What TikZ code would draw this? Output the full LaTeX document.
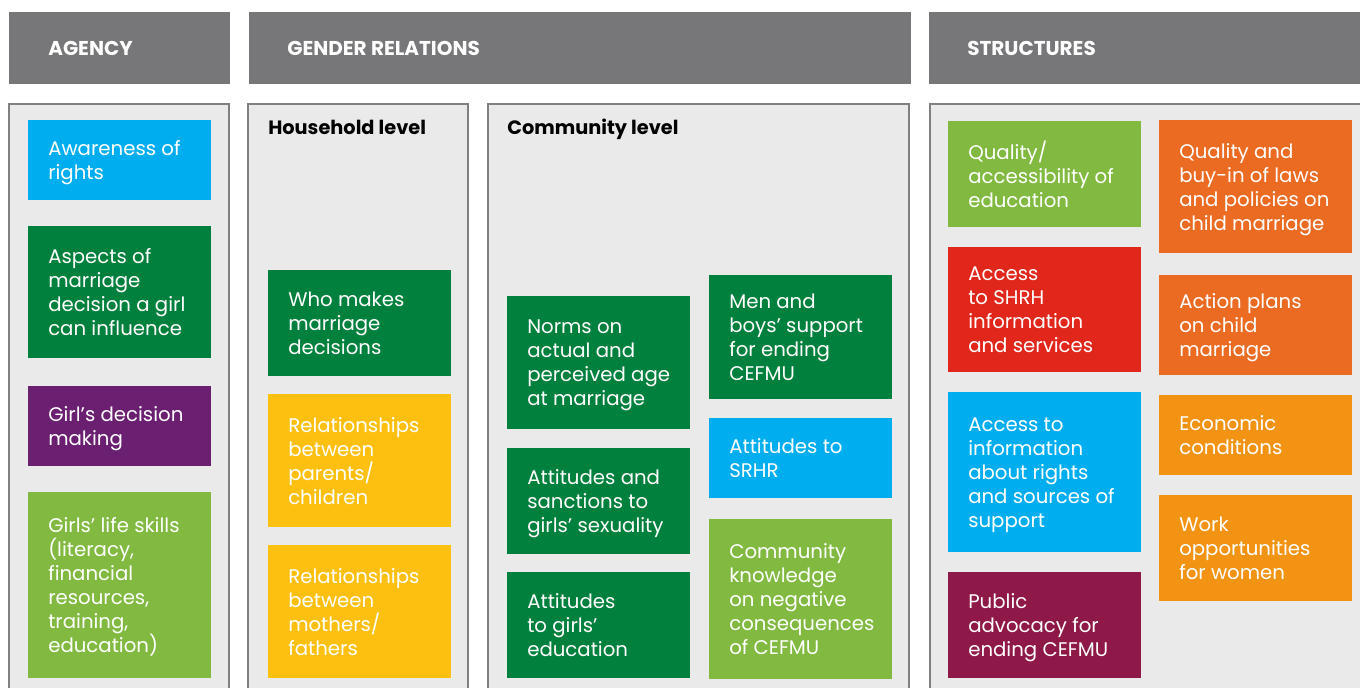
\documentclass[tikz,border=0pt]{standalone}
\usepackage{fontspec}
\setmainfont{Poppins}
\definecolor{hdrgray}{HTML}{77777A}
\definecolor{panelfill}{HTML}{EAEAEA}
\definecolor{panelline}{HTML}{808080}
\definecolor{cblue}{HTML}{00AEEF}
\definecolor{cdgreen}{HTML}{00803D}
\definecolor{cpurple}{HTML}{6A1F70}
\definecolor{clgreen}{HTML}{82BA41}
\definecolor{cyellow}{HTML}{FDC010}
\definecolor{cred}{HTML}{E1261C}
\definecolor{cmaroon}{HTML}{8E1848}
\definecolor{corange}{HTML}{EB6B23}
\definecolor{camber}{HTML}{F39313}
\newcommand{\cell}[7]{%
  \node[cellbox,fill=#6,minimum width=#4*0.75pt,minimum height=#5*0.75pt] (#1) at (#2,#3) {};
  \node[celltext] (#1t) at ([xshift=15pt]#1.west) {#7};}
\begin{document}
\begin{tikzpicture}[x=0.75pt,y=-0.75pt,
  hdrbox/.style={fill=hdrgray,draw=none,inner sep=0pt,anchor=north west},
  hdrtext/.style={text=white,font=\fontsize{15pt}{18pt}\selectfont\bfseries,anchor=west,inner sep=0pt},
  panel/.style={fill=panelfill,draw=panelline,line width=1.5pt},
  leveltext/.style={text=black,font=\fontsize{14.5pt}{18pt}\selectfont\bfseries,anchor=base west,inner sep=0pt},
  cellbox/.style={draw=none,inner sep=0pt,anchor=north west},
  celltext/.style={text=white,font=\fontsize{14.8pt}{18pt}\selectfont,align=left,anchor=west,inner sep=0pt,text depth=0pt}]
\useasboundingbox (0,0) rectangle (1360,688);
\clip (0,0) rectangle (1360,688);
\fill[white] (0,0) rectangle (1360,688);
% headers
\node[hdrbox,minimum width=221*0.75pt,minimum height=72*0.75pt] (hA) at (9,12) {};
\node[hdrbox,minimum width=662*0.75pt,minimum height=72*0.75pt] (hG) at (249,12) {};
\node[hdrbox,minimum width=440*0.75pt,minimum height=72*0.75pt] (hS) at (929,12) {};
\node[hdrtext] (hAt) at (48,48) {AGENCY};
\node[hdrtext] (hGt) at (287,48) {GENDER RELATIONS};
\node[hdrtext] (hSt) at (967,48) {STRUCTURES};
% panels
\draw[panel] (9,104) rectangle (229,710);
\draw[panel] (248,104) rectangle (468,710);
\draw[panel] (488,104) rectangle (909,710);
\draw[panel] (930,104) rectangle (1380,710);
\node[leveltext] (hh) at (268,135) {Household level};
\node[leveltext] (cl) at (507,135) {Community level};
% agency
\cell{a1}{28}{120}{183}{80}{cblue}{Awareness of\\rights}
\cell{a2}{28}{226}{183}{132}{cdgreen}{Aspects of\\marriage\\decision a girl\\can influence}
\cell{a3}{28}{386}{183}{80}{cpurple}{Girl’s decision\\making}
\cell{a4}{28}{492}{183}{186}{clgreen}{Girls’ life skills\\(literacy,\\financial\\resources,\\training,\\education)}
% household
\cell{h1}{268}{270}{183}{106}{cdgreen}{Who makes\\marriage\\decisions}
\cell{h2}{268}{394}{183}{133}{cyellow}{Relationships\\between\\parents/\\children}
\cell{h3}{268}{545}{183}{133}{cyellow}{Relationships\\between\\mothers/\\fathers}
% community
\cell{c1}{507}{296}{183}{133}{cdgreen}{Norms on\\actual and\\perceived age\\at marriage}
\cell{c2}{507}{448}{183}{106}{cdgreen}{Attitudes and\\sanctions to\\girls’ sexuality}
\cell{c3}{507}{572}{183}{106}{cdgreen}{Attitudes\\to girls’\\education}
\cell{c4}{709}{275}{183}{124}{cdgreen}{Men and\\boys’ support\\for ending\\CEFMU}
\cell{c5}{709}{418}{183}{80}{cblue}{Attitudes to\\SRHR}
\cell{c6}{709}{519}{183}{160}{clgreen}{Community\\knowledge\\on negative\\consequences\\of CEFMU}
% structures
\cell{s1}{948}{121}{193}{106}{clgreen}{Quality/\\accessibility of\\education}
\cell{s2}{948}{247}{193}{125}{cred}{Access\\to SHRH\\information\\and services}
\cell{s3}{948}{392}{193}{160}{cblue}{Access to\\information\\about rights\\and sources of\\support}
\cell{s4}{948}{572}{193}{106}{cmaroon}{Public\\advocacy for\\ending CEFMU}
\cell{s5}{1159}{120}{193}{133}{corange}{Quality and\\buy-in of laws\\and policies on\\child marriage}
\cell{s6}{1159}{275}{193}{100}{corange}{Action plans\\on child\\marriage}
\cell{s7}{1159}{395}{193}{80}{camber}{Economic\\conditions}
\cell{s8}{1159}{495}{193}{106}{camber}{Work\\opportunities\\for women}
\end{tikzpicture}
\end{document}
